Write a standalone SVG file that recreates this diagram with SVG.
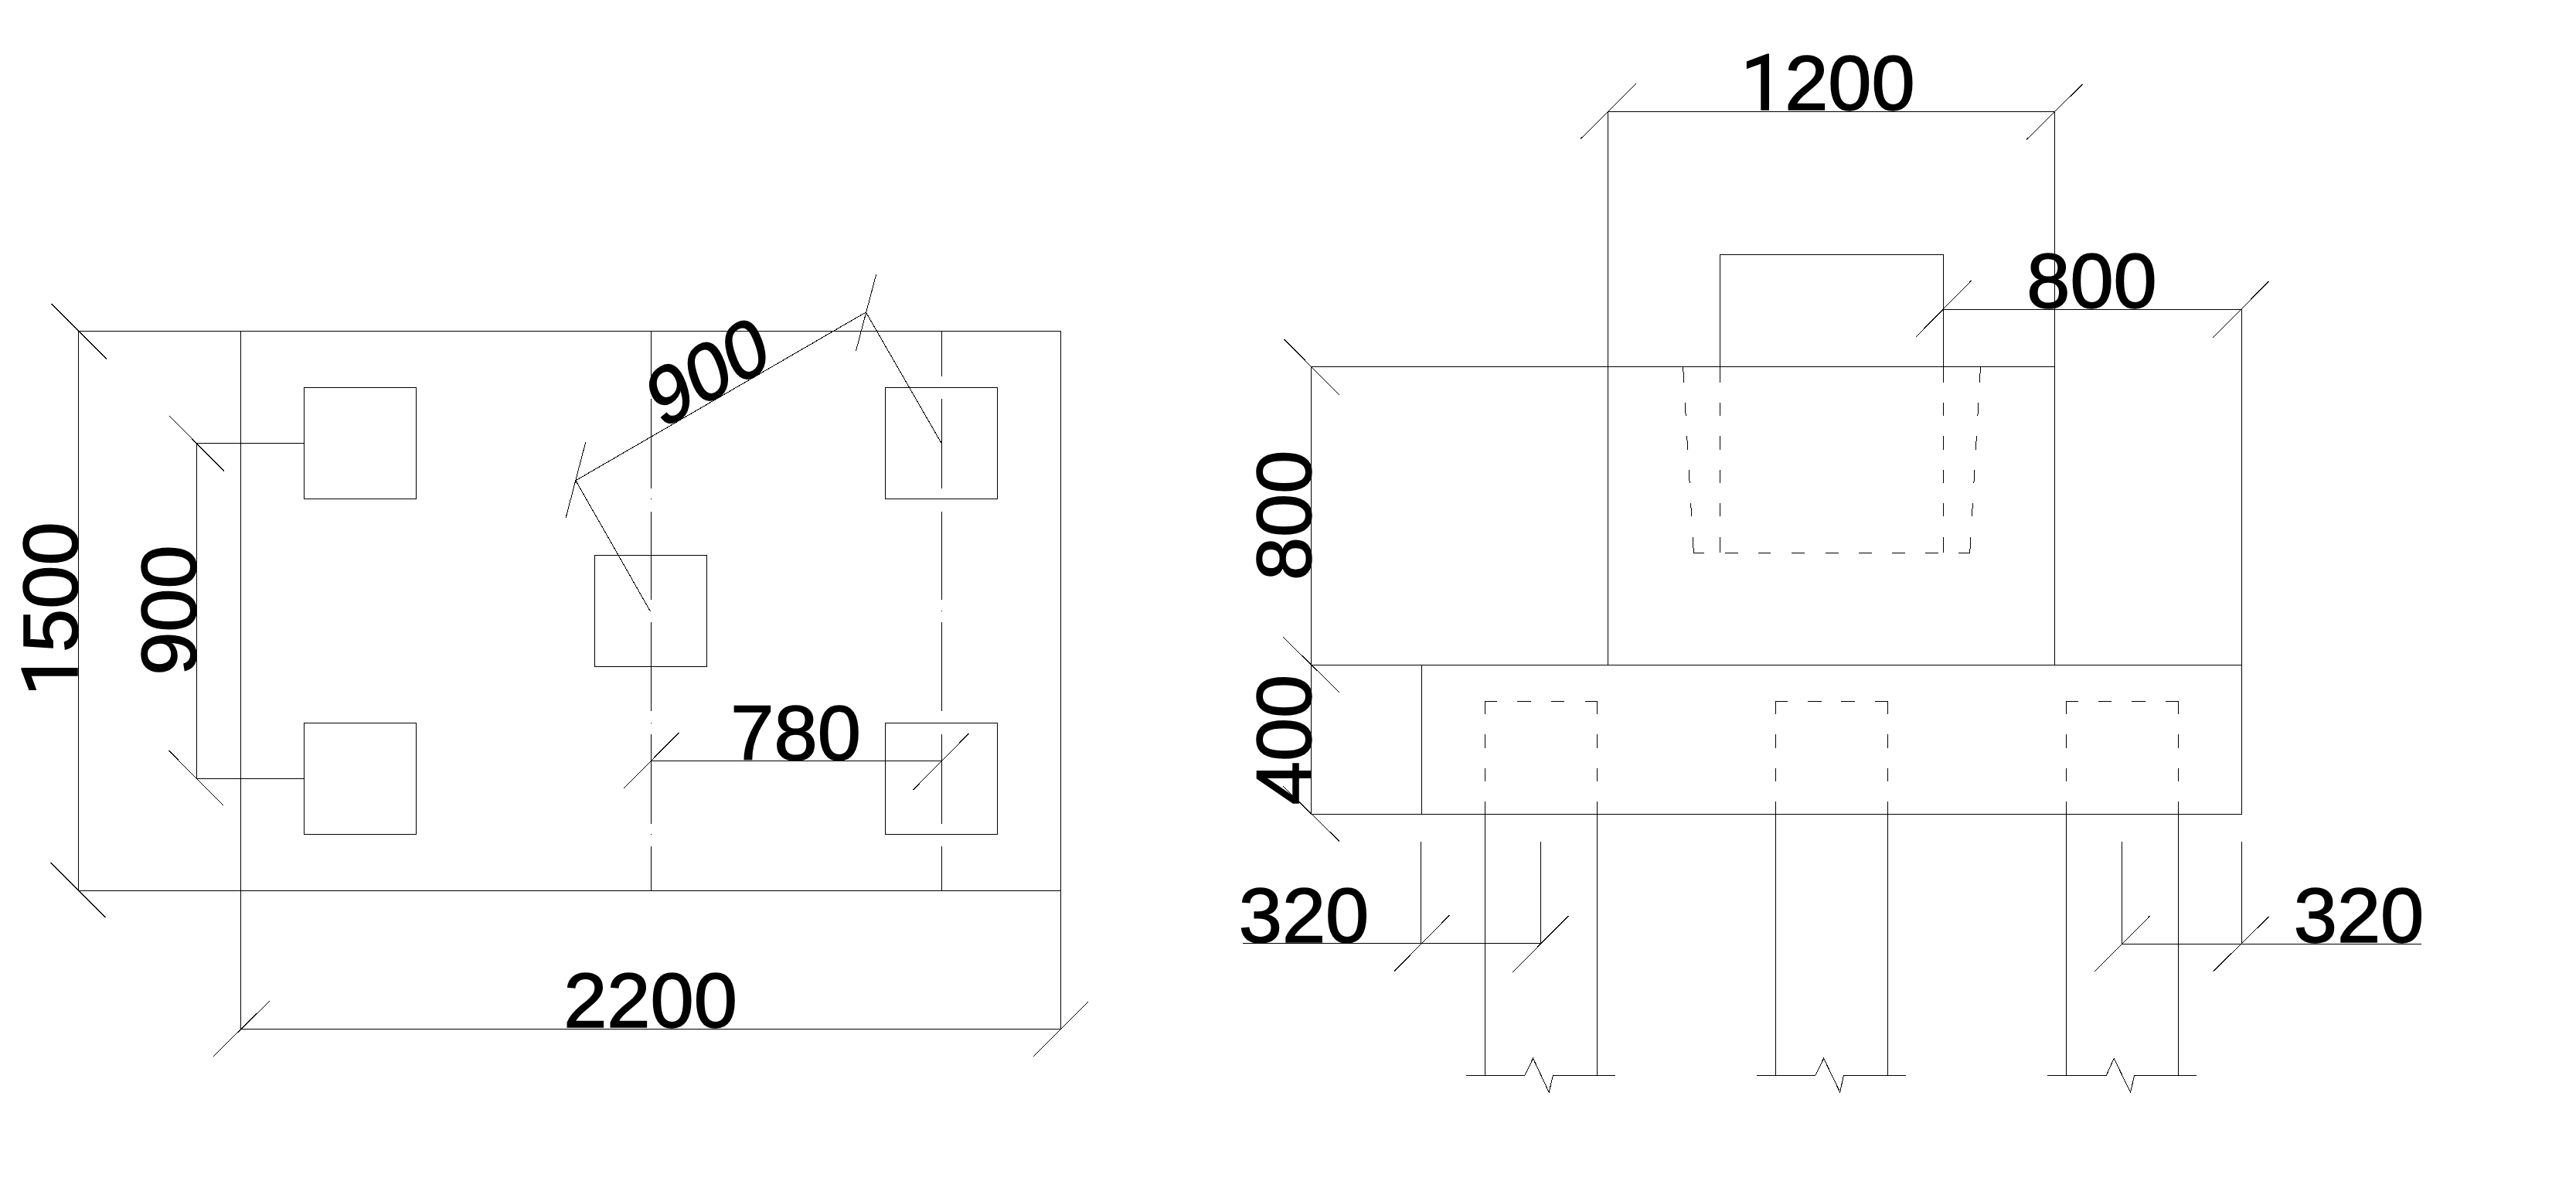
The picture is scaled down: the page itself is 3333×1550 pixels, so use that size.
<svg xmlns="http://www.w3.org/2000/svg" width="3333" height="1550" viewBox="0 0 3333 1550">
<style>
.l{fill:none;stroke:#000;stroke-width:1;shape-rendering:crispEdges}
.t{fill:none;stroke:#000;stroke-width:1;shape-rendering:crispEdges}
.x{font-family:"Liberation Sans",Arial,sans-serif;font-size:101px;fill:#000;stroke:#000;stroke-width:1.6;text-anchor:middle}
.one{font-family:Roboto,"Liberation Sans",sans-serif}
</style>
<rect width="3333" height="1550" fill="#fff"/>
<g id="plan-outline"><path class="l" d="M101.5 428.3H1372.4V1331.4M101.5 428.3V1152.5H1372.4M311.7 428.3V1331.4H1372.4"/></g>
<g id="pile-1"><rect class="l" x="393.4" y="501.3" width="144.9" height="144"/></g>
<g id="pile-2"><rect class="l" x="393.4" y="935.4" width="144.9" height="143.9"/></g>
<g id="pile-3"><rect class="l" x="769.4" y="718.3" width="144.9" height="143.9"/></g>
<g id="pile-4"><rect class="l" x="1145.4" y="501.3" width="144.9" height="144"/></g>
<g id="pile-5"><rect class="l" x="1145.4" y="935.4" width="144.9" height="143.9"/></g>
<g id="axes">
<path class="l" d="M842.3 428.3V486.7M842.3 516V631.7M842.3 661.7V776M842.3 805V920.4M842.3 950V1065.7M842.3 1095V1152.5M842.3 645V646M842.3 935V936M842.3 1079V1080"/>
<path class="l" d="M1218.4 428.3V486.7M1218.4 516V631.7M1218.4 661.7V776M1218.4 805V920.4M1218.4 950V1065.7M1218.4 1095V1152.5M1218.4 790V791"/>
</g>
<g id="section-outline">
<path class="l" d="M2080.6 144.3H2658.9V860.4M2080.6 144.3V860.4M1696.5 474.3H2658.9M1696.5 474.3V1053.2H2900.6V400.3H2514.2M1696.5 860.4H2900.6M1839.5 860.4V1053.2"/>
<path class="l" d="M2225.2 495V329H2514.2V495"/>
</g>
<g id="cap-hidden">
<path class="l" d="M2225.2 521V538M2225.2 564V582M2225.2 608V625M2225.2 651V668M2225.2 695V715.4M2514.2 521V538M2514.2 564V582M2514.2 608V625M2514.2 651V668M2514.2 695V715.4"/>
<path class="t" d="M2177.6 474.3L2178.8 495M2180.3 521L2181.2 538M2182.7 564L2183.7 582M2185.2 608L2186.2 625M2187.7 651L2188.7 668M2190.2 695L2191.4 715.4M2562.5 474.3L2561.3 495M2559.8 521L2558.9 538M2557.4 564L2556.4 582M2554.9 608L2553.9 625M2552.4 651L2551.4 668M2549.9 695L2548.7 715.4"/>
<path class="l" d="M2191.4 715.4H2204.6M2231.6 715.4H2248.7M2274.6 715.4H2290.7M2317.7 715.4H2334.9M2361.9 715.4H2378.5M2404.5 715.4H2421.5M2447.5 715.4H2465M2491.3 715.4H2508M2533.8 715.4H2548.7"/>
</g>
<g id="column-1"><path class="l" d="M1921.6 923.6V907.9H1937M1962.9 907.9H1980.7M2007 907.9H2024.3M2050.7 907.9H2066.2V923.6M1921.6 950V967.5M1921.6 994V1011M2066.2 950V967.5M2066.2 994V1011M1921.6 1036.8V1391M2066.2 1036.8V1391"/><path class="t" d="M1896.9 1391H1973.2L1983.6 1369.3L2004.2 1413.3L2009.4 1391H2089.8"/></g>
<g id="column-2"><path class="l" d="M2297.6 923.6V907.9H2313M2338.9 907.9H2356.7M2382 907.9H2399.8M2425.8 907.9H2442.8V923.6M2297.6 950V967.5M2297.6 994V1011M2442.8 950V967.5M2442.8 994V1011M2297.6 1036.8V1391M2442.8 1036.8V1391"/><path class="t" d="M2272.9 1391H2349.2L2359.6 1369.3L2380.8 1413.3L2385.4 1391H2465.8"/></g>
<g id="column-3"><path class="l" d="M2673.8 923.6V907.9H2689.3M2715.2 907.9H2732.4M2758.2 907.9H2776M2801.8 907.9H2818.5V923.6M2673.8 950V967.5M2673.8 994V1011M2818.5 950V967.5M2818.5 994V1011M2673.8 1036.8V1391M2818.5 1036.8V1391"/><path class="t" d="M2649.1 1391H2725.5L2735.2 1369.3L2756.5 1413.3L2761.7 1391H2841.5"/></g>
<g id="connectors">
<path class="l" d="M254.6 573.3H393.4M254.6 1007.1H393.4M254.6 573.3V1007.1M842.3 984.3H1218.4"/>
<path class="l" d="M1608.1 1220.3H1993.3M1838.9 1088.7V1220.3M1993.3 1088.7V1220.3M2745.6 1221.3H3132.5M2745.6 1088.7V1221.3M2900.6 1088.7V1221.3"/>
<path class="t" d="M744.9 621.7L1120.4 404M744.9 621.7L841.3 790.7M1120.4 404L1218.4 574"/>
<path class="t" d="M66.3 393L137.8 464.3M219 538L290 609.7M218.4 971L289.3 1042.5M65.3 1116L136.7 1187M349 1295L276 1366.8M878.6 947.9L806.6 1020.4M1253.6 949L1181.6 1021.8M1407.6 1296.4L1336.7 1367.5M757.7 572.3L732.1 670M1133.7 355L1107.6 453.7"/>
<path class="t" d="M2117.3 108L2045 179.7M2694.5 109L2622 180.7M1661.5 439L1732.7 510.7M2550.4 363.3L2479.2 435.7M2935.6 364L2863.3 436.7M1659.8 824L1733.3 896M1659.8 1017L1733.3 1088.7M1875.6 1184L1803.9 1256.7M2029.5 1185L1957.2 1257.7M2781.7 1185L2710.6 1256.7M2935.6 1186L2863.3 1257"/>
</g>
<g id="labels">
<text class="x" x="841.5" y="1329">2200</text>
<text class="x" x="1029.6" y="983">780</text>
<text class="x" transform="translate(928 514) rotate(-30) skewX(-10)">900</text>
<text class="x" transform="translate(100 788) rotate(-90)"><tspan class="one">1</tspan>500</text>
<text class="x" transform="translate(253 789.6) rotate(-90)">900</text>
<text class="x" x="2365" y="142"><tspan class="one">1</tspan>200</text>
<text class="x" x="2706.5" y="398">800</text>
<text class="x" transform="translate(1696 666.8) rotate(-90)">800</text>
<text class="x" transform="translate(1696 957) rotate(-90)">400</text>
<text class="x" x="1687" y="1219">320</text>
<text class="x" x="3052" y="1219">320</text>
</g>
</svg>
